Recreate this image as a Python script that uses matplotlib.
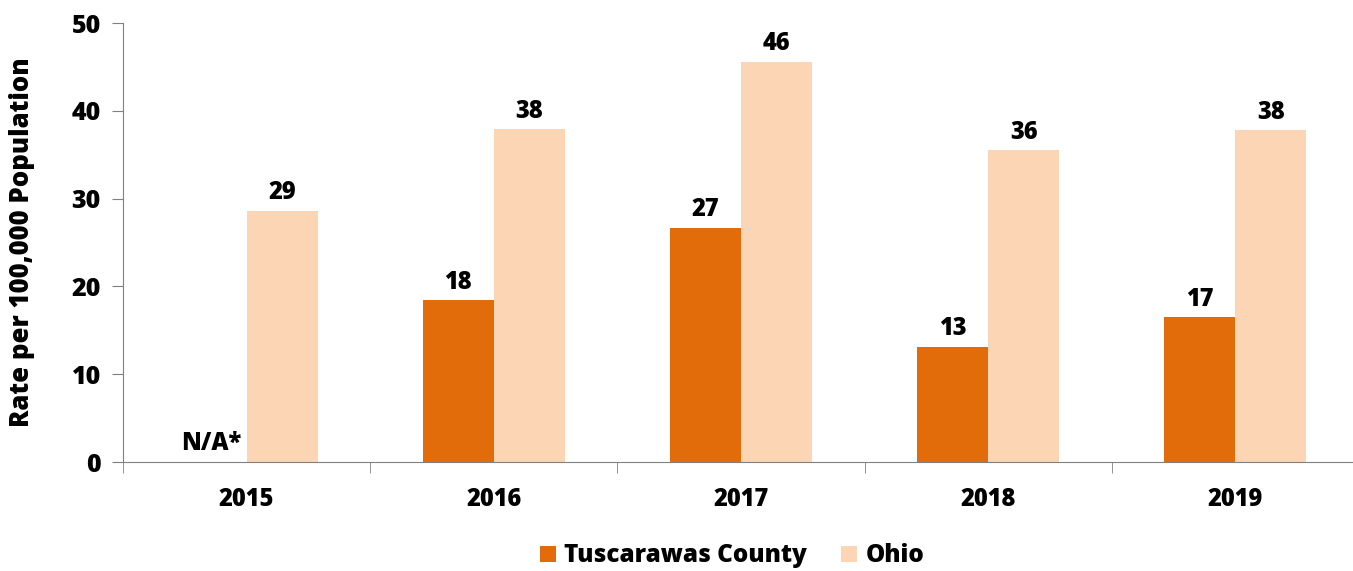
import matplotlib
matplotlib.use("Agg")
import matplotlib.pyplot as plt
import numpy as np
from matplotlib.ticker import FixedLocator

years = ["2015", "2016", "2017", "2018", "2019"]
tusc = [np.nan, 18.4, 26.7, 13.1, 16.5]
tusc_labels = ["N/A*", "18", "27", "13", "17"]
ohio = [28.6, 37.9, 45.6, 35.5, 37.8]
ohio_labels = ["29", "38", "46", "36", "38"]
series_names = ["Tuscarawas County", "Ohio"]
y_label = "Rate per 100,000 Population"

c_dark = "#E36C0A"
c_light = "#FCD5B5"
W = 800
plt.rcParams['font.family'] = ['Open Sans', 'DejaVu Sans']
plt.rcParams['font.weight'] = W

fig = plt.figure(figsize=(13.53, 5.71), dpi=100)
ax = fig.add_axes([123/1353, 1-462/571, 1236/1353, 439/571])

x = np.arange(len(years))
w = 0.287
b1 = ax.bar(x - w/2, np.nan_to_num(tusc), w, color=c_dark, label=series_names[0])
b2 = ax.bar(x + w/2, ohio, w, color=c_light, label=series_names[1])

for xi, v, lab in zip(x, tusc, tusc_labels):
    yv = 0 if np.isnan(v) else v
    ax.annotate(lab, (xi - w/2, yv), xytext=(0, 4), textcoords="offset points",
                ha="center", va="bottom", fontsize=17, fontweight=W)
for xi, v, lab in zip(x, ohio, ohio_labels):
    ax.annotate(lab, (xi + w/2, v), xytext=(0, 4), textcoords="offset points",
                ha="center", va="bottom", fontsize=17, fontweight=W)

ax.set_xlim(-0.5, len(years) - 0.5)
ax.set_ylim(0, 50)
ax.set_yticks([0, 10, 20, 30, 40, 50])
ax.set_xticks(x)
ax.set_xticklabels(years, fontsize=17, fontweight=W)
ax.xaxis.set_minor_locator(FixedLocator(np.arange(-0.5, len(years), 1.0)))
ax.tick_params(axis="x", which="major", length=0, pad=18)
ax.tick_params(axis="x", which="minor", length=8, color="#808080", direction="out")
ax.tick_params(axis="y", length=8, color="#808080", labelsize=18, pad=8)
for t in ax.get_yticklabels():
    t.set_fontweight(W)
for s in ["top", "right"]:
    ax.spines[s].set_visible(False)
for s in ["left", "bottom"]:
    ax.spines[s].set_color("#808080")
ax.set_ylabel(y_label, fontsize=18.5, fontweight=W, labelpad=26)

leg = fig.legend(handles=[b1, b2], loc="center", bbox_to_anchor=(732/1353, 1-556/571),
                 ncol=2, frameon=False, fontsize=17.5, handlelength=0.65, handleheight=0.65,
                 columnspacing=1.4, handletextpad=0.35)
for t in leg.get_texts():
    t.set_fontweight(W)

fig.savefig("out.png", dpi=100)
